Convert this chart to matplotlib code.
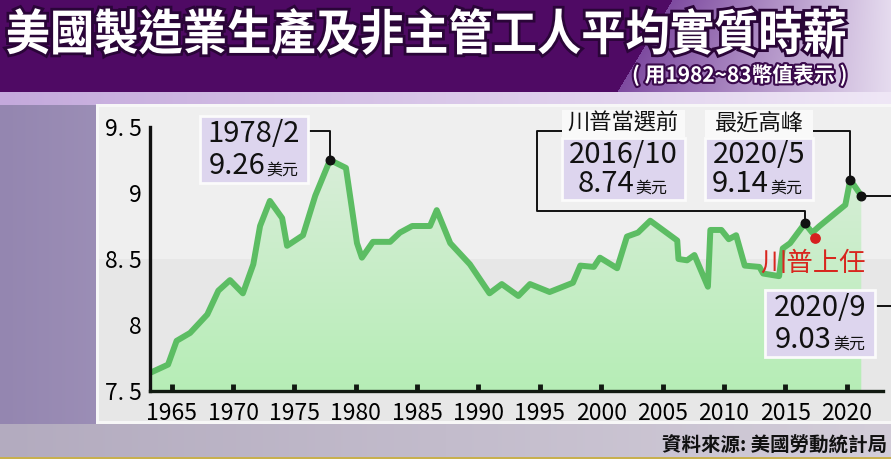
import numpy as np
import matplotlib
matplotlib.use('Agg')
import matplotlib.pyplot as plt
from matplotlib.patches import Rectangle, Polygon, PathPatch
from matplotlib.textpath import TextPath
from matplotlib.font_manager import FontProperties
from matplotlib.transforms import Affine2D
import matplotlib.patheffects as pe

plt.rcParams['font.family'] = ['Noto Sans CJK TC', 'DejaVu Sans']

years = [1963.3, 1964.7, 1965.4, 1966.5, 1967.9, 1968.8, 1969.75, 1970.8, 1971.65, 1972.2,
         1973.0, 1974.0, 1974.4, 1975.7, 1976.7, 1977.9, 1979.2, 1980.1, 1980.5, 1981.4,
         1982.8, 1983.6, 1984.6, 1986.05, 1986.6, 1987.7, 1989.3, 1990.9, 1991.9, 1993.25,
         1994.2, 1995.8, 1997.7, 1998.3, 1999.4, 1999.9, 2001.3, 2002.1, 2003.0, 2004.0,
         2006.2, 2006.3, 2007.0, 2007.6, 2008.7, 2008.9, 2009.8, 2010.4, 2011.0, 2011.7,
         2012.9, 2013.2, 2014.5, 2014.8, 2015.4, 2016.6, 2017.2, 2017.8, 2019.9, 2020.3,
         2021.2]
wage = [7.64, 7.70, 7.88, 7.94, 8.08, 8.26, 8.34, 8.24, 8.46, 8.75,
        8.94, 8.81, 8.60, 8.68, 8.98, 9.25, 9.19, 8.62, 8.51, 8.63,
        8.63, 8.70, 8.75, 8.75, 8.87, 8.62, 8.46, 8.24, 8.31, 8.22,
        8.31, 8.25, 8.32, 8.45, 8.44, 8.51, 8.43, 8.67, 8.70, 8.79,
        8.64, 8.50, 8.49, 8.53, 8.29, 8.72, 8.72, 8.65, 8.68, 8.45,
        8.44, 8.39, 8.37, 8.58, 8.62, 8.77, 8.70, 8.75, 8.91, 9.10,
        8.98]

xticks = [1965, 1970, 1975, 1980, 1985, 1990, 1995, 2000, 2005, 2010, 2015, 2020]
yticks = [7.5, 8, 8.5, 9, 9.5]
ytick_labels = ['7. 5', '8', '8. 5', '9', '9. 5']

# marked points: 1978/2, 2016/10, 2020/5, 2020/9
mark_x = [1977.9, 2016.6, 2020.3, 2021.2]
mark_y = [9.25, 8.77, 9.10, 8.98]
mark_dates = ['1978/2', '2016/10', '2020/5', '2020/9']
mark_vals = ['9.26', '8.74', '9.14', '9.03']
inaug_x, inaug_y = 2017.46, 8.66

title = '美國製造業生產及非主管工人平均實質時薪'

W, H = 891, 459
fig = plt.figure(figsize=(W / 100, H / 100), dpi=100)

# ---- background ----
bg = fig.add_axes([0, 0, 1, 1])
bg.set_xlim(0, W)
bg.set_ylim(H, 0)
bg.axis('off')

yy, xx = np.mgrid[0:H, 0:W].astype(float)
def hexrgb(h):
    return np.array([int(h[i:i + 2], 16) / 255 for i in (1, 3, 5)])

t = (xx / W)[..., None]
img = hexrgb('#9486b0') * (1 - t) + hexrgb('#d9cfe6') * t
# title band
edge = 672 - yy * 0.6
tt = np.clip((xx - edge) / (W - edge), 0, 1)[..., None]
title_col = hexrgb('#7e4ba0') * (1 - tt) + hexrgb('#e6dcef') * tt
title_col = np.where((xx < edge)[..., None], hexrgb('#4f0a64'), title_col)
img = np.where((yy < 92)[..., None], title_col, img)
band = hexrgb('#c4a9dc') * (1 - t) + hexrgb('#efe7f6') * t
img = np.where(((yy >= 92) & (yy < 105))[..., None], band, img)
bottom = hexrgb('#b3abbf') * (1 - t) + hexrgb('#d3cdd9') * t
img = np.where((yy >= 424)[..., None], bottom, img)
img = np.where((yy >= 457)[..., None], hexrgb('#c8b04e'), img)
bg.imshow(img, extent=[0, W, H, 0], aspect='auto', interpolation='bilinear')

bg.add_patch(Rectangle((96, 104), W - 96, 320, facecolor='#f7f7f7', edgecolor='none'))
bg.add_patch(Rectangle((99, 107), W - 99, 152, facecolor='#efefef', edgecolor='none'))
bg.add_patch(Rectangle((99, 259), W - 99, 162, facecolor='#e7e7e7', edgecolor='none'))

# title as a stretched path (tall, heavy glyphs)
tp = TextPath((0, 0), title, size=46.5,
              prop=FontProperties(family='Noto Sans CJK TC', weight='black'))
ext = tp.get_extents()
sx = 838 / ext.width
sy = 47 / ext.height
tr = Affine2D().translate(-ext.x0, -ext.y1).scale(sx, -sy).translate(7, 8)
bg.add_patch(PathPatch(tr.transform_path(tp), facecolor='white', edgecolor='none',
                       path_effects=[pe.withStroke(linewidth=4, foreground='#2a0538')]))

bg.text(848, 75, '( 用1982~83幣值表示 )', fontsize=15, fontweight='bold',
        color='white', va='center', ha='right',
        path_effects=[pe.withStroke(linewidth=3, foreground='#3a0a4c')])
bg.text(887, 446, '資料來源: 美國勞動統計局', fontsize=14, fontweight='bold',
        color='#111111', va='center', ha='right')

# ---- main chart ----
ax = fig.add_axes([150 / W, 68 / H, 733 / W, 264 / H])
ax.set_facecolor('none')
ax.set_xlim(1963.23, 2022.97)
ax.set_ylim(7.5, 9.5)

poly = Polygon(list(zip(years, wage)) + [(years[-1], 7.5), (years[0], 7.5)],
               closed=True, facecolor='none', edgecolor='none')
ax.add_patch(poly)
grad = np.linspace(0, 1, 200)[:, None, None]
gimg = hexrgb('#b6edb6') * (1 - grad) + hexrgb('#d8eed8') * grad
gi = ax.imshow(gimg, extent=[years[0], years[-1], max(wage), 7.5], aspect='auto',
               interpolation='bilinear', zorder=1)
gi.set_clip_path(poly)

ax.plot(years, wage, color='#5cbd63', lw=4.3, solid_joinstyle='round',
        solid_capstyle='butt', zorder=3)

for s in ['top', 'right']:
    ax.spines[s].set_visible(False)
ax.spines['left'].set_linewidth(2.4)
ax.spines['bottom'].set_linewidth(2.4)
ax.spines['left'].set_color('#111111')
ax.spines['bottom'].set_color('#111a11')
ax.spines['left'].set_zorder(5)
ax.spines['bottom'].set_zorder(5)

narrow = ['Liberation Sans Narrow', 'Noto Sans CJK TC']
ax.set_xticks(xticks)
ax.set_xticklabels([str(y) for y in xticks], fontsize=16.5, family=narrow)
ax.tick_params(axis='x', direction='in', length=5, width=3.5, color='#111a11', pad=8)
ax.set_yticks(yticks)
ax.set_yticklabels(ytick_labels, fontsize=16.5, family=narrow)
ax.tick_params(axis='y', length=0, pad=6)

# ---- annotations in pixel space ----
ov = fig.add_axes([0, 0, 1, 1], zorder=10)
ov.set_xlim(0, W)
ov.set_ylim(H, 0)
ov.axis('off')

def to_px(x, y):
    dx, dy = ax.transData.transform((x, y))
    return dx, H - dy

pts = [to_px(x, y) for x, y in zip(mark_x, mark_y)]
lk = dict(color='#111111', lw=1.4, zorder=2, clip_on=False)

# connectors
(p1x, p1y), (p2x, p2y), (p3x, p3y), (p4x, p4y) = pts
ov.plot([308, p1x, p1x], [131, 131, p1y], **lk)
ov.plot([562, 537, 537, p2x, p2x], [131, 131, 211, 211, p2y], **lk)
ov.plot([813, p3x, p3x], [131, 131, p3y], **lk)
ov.plot([p4x, 900], [p4y, p4y], **lk)
ov.plot([875, 900], [306, 306], **lk)
ov.scatter([p[0] for p in pts], [p[1] for p in pts], s=38, color='#111111', zorder=4)

def value_box(x0, x1, y0, y1, date, val, split):
    ov.add_patch(Rectangle((x0, y0), x1 - x0, y1 - y0, facecolor='#ddd5ee',
                           edgecolor='#fbfbfb', lw=2, zorder=3))
    cx = (x0 + x1) / 2
    ov.text(cx, y0 + (y1 - y0) * 0.27, date, fontsize=21, ha='center', va='center',
            color='#111111', zorder=4)
    ov.text(split, y0 + (y1 - y0) * 0.74, val, fontsize=21, ha='right', va='center',
            color='#111111', zorder=4)
    ov.text(split + 1, y0 + (y1 - y0) * 0.80, '美元', fontsize=11.5, ha='left',
            va='center', color='#111111', zorder=4)

def label_box(x0, x1, y0, y1, label):
    ov.add_patch(Rectangle((x0, y0), x1 - x0, y1 - y0, facecolor='#f9f9f9',
                           edgecolor='none', zorder=3))
    ov.text((x0 + x1) / 2, (y0 + y1) / 2, label, fontsize=16, ha='center', va='center',
            color='#111111', zorder=4)

value_box(200, 308, 116, 183, mark_dates[0], mark_vals[0], 265)
label_box(562, 685, 110, 137, '川普當選前')
value_box(562, 685, 138, 200, mark_dates[1], mark_vals[1], 634)
label_box(705, 813, 110, 137, '最近高峰')
value_box(705, 813, 138, 200, mark_dates[2], mark_vals[2], 769)
value_box(765, 875, 290, 357, mark_dates[3], mark_vals[3], 832)

ix, iy = to_px(inaug_x, inaug_y)
ov.scatter([ix], [iy], s=45, color='#d61f1f', zorder=4)
ov.text(813, 263, '川普上任', fontsize=19, color='#d8261e', ha='center', va='center',
        zorder=4)

fig.savefig('out.png', dpi=100)
